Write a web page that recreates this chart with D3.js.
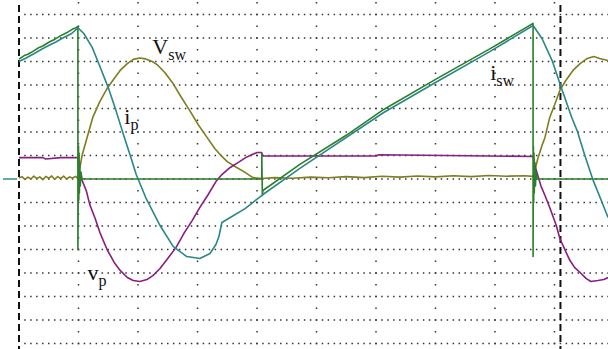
<!DOCTYPE html>
<html><head><meta charset="utf-8">
<script src="https://cdn.jsdelivr.net/npm/d3@7/dist/d3.min.js"></script>
<style>html,body{margin:0;padding:0;background:#fff;}svg{display:block;}</style>
</head><body><svg id="c" width="608" height="349"></svg>
<script>
// Time axis in divisions, amplitude in divisions
const xDivs = [0,1,2,3,4,5,6,7,8,9,10];
const yDivs = [-7,-6,-5,-4,-3,-2,-1,0,1,2,3,4,5,6,7];
const cursorT = [0, 9.1];

// i_p (teal)
const ipT = [0,0.12,0.25,0.38,0.5,0.62,0.75,0.88,0.99,1.09,1.23,1.36,1.50,1.63,1.76,1.87,1.97,2.13,2.37,2.59,2.82,3.04,3.21,3.31,3.36,3.41,3.55,3.80,4.10,4.72,6.13,7.03,7.92,8.64,8.79,8.96,9.09,9.29,9.38,9.51,9.65,9.80,9.90];
const ipV = [5.0,5.15,5.33,5.52,5.68,5.83,6.02,6.18,6.43,6.19,5.60,4.79,3.89,2.91,1.85,1.00,0.19,-0.79,-1.98,-2.87,-3.30,-3.38,-3.17,-2.79,-2.45,-1.85,-1.64,-1.26,-0.66,0.45,2.83,4.15,5.43,6.53,5.98,5.04,4.06,2.62,2.06,1.00,-0.06,-1.00,-1.64];

// i_sw (green)
const iswT = [0,0.1,0.15,0.2,0.3,0.35,0.4,0.5,0.55,0.6,0.7,0.75,0.8,0.9,0.95,0.99,0.99,1.0,1.005,1.01,1.015,1.02,1.03,1.04,1.06,4.08,4.08,4.09,4.10,4.72,5.5,6.13,7.03,7.92,8.64,8.64,8.645,8.65,8.655,8.66,8.67,8.68,8.69,8.71,9.90];
const iswV = [5.10,5.27,5.31,5.38,5.54,5.61,5.66,5.82,5.88,5.94,6.10,6.16,6.22,6.38,6.43,6.49,-3.0,1.4,-0.9,1.1,-0.6,0.7,-0.3,0.3,0,0,1.13,-0.70,-0.49,0.62,1.86,2.96,4.28,5.55,6.62,-3.30,1.4,-1.0,1.1,-0.6,0.7,-0.3,0.3,0,0];

// v_sw (olive)
const vswT = [0,0.05,0.1,0.15,0.2,0.25,0.3,0.35,0.4,0.45,0.5,0.55,0.6,0.65,0.7,0.75,0.8,0.85,0.9,0.95,0.99,1.03,1.06,1.13,1.24,1.36,1.48,1.60,1.70,1.82,1.92,2.03,2.13,2.24,2.32,2.45,2.59,2.72,2.87,3.01,3.16,3.29,3.41,3.50,3.63,3.80,3.93,4.08,4.3,4.6,4.9,5.2,5.5,5.8,6.1,6.4,6.7,7.0,7.3,7.6,7.9,8.2,8.5,8.64,8.67,8.72,8.79,8.84,8.92,9.01,9.09,9.19,9.31,9.43,9.55,9.66,9.76,9.90];
const vswV = [0.04,0.10,-0.02,0.08,0.0,0.12,0.02,0.09,-0.03,0.11,0.03,0.13,-0.01,0.10,0.02,0.12,0.0,0.09,0.04,0.11,0.02,0.57,1.00,1.64,2.62,3.30,3.85,4.28,4.62,4.91,5.09,5.15,5.11,5.00,4.87,4.53,4.06,3.51,2.91,2.32,1.77,1.30,0.96,0.74,0.53,0.28,0.06,0.02,0.06,0.03,0.08,0.05,0.1,0.06,0.12,0.08,0.13,0.09,0.14,0.1,0.15,0.12,0.14,0.11,0.36,0.87,1.43,1.77,2.62,3.21,3.77,4.19,4.62,4.91,5.13,5.21,5.13,5.04];

// v_p (purple)
const vpT = [0,0.4,0.45,0.7,0.99,1.01,1.06,1.13,1.19,1.28,1.36,1.48,1.60,1.70,1.82,1.92,2.03,2.15,2.25,2.37,2.50,2.64,2.77,2.91,3.04,3.18,3.31,3.41,3.55,3.68,3.81,3.92,4.00,4.07,4.10,6.0,6.05,8.64,8.67,8.72,8.77,8.84,8.92,9.03,9.09,9.18,9.26,9.34,9.43,9.53,9.61,9.73,9.83,9.90];
const vpV = [0.91,0.91,0.85,0.91,0.91,0.36,-0.06,-0.49,-1.09,-1.68,-2.28,-3.00,-3.55,-3.89,-4.19,-4.32,-4.36,-4.28,-4.11,-3.81,-3.38,-2.91,-2.32,-1.77,-1.21,-0.66,-0.11,0.19,0.49,0.70,0.91,1.04,1.13,1.13,0.98,0.98,1.03,0.96,0.57,0.15,-0.28,-0.70,-1.21,-1.98,-2.53,-3.04,-3.47,-3.77,-3.98,-4.23,-4.36,-4.32,-4.28,-4.19];

const labels = [
  {main:"V", sub:"sw", t:2.24, v:5.3},
  {main:"i", sub:"p", t:1.77, v:2.35},
  {main:"i", sub:"sw", t:7.92, v:4.2},
  {main:"v", sub:"p", t:1.15, v:-4.3}
];

const W=608,H=349;
const x = d3.scaleLinear().domain([0,10]).range([19,614]);
const y = d3.scaleLinear().domain([-7,7]).range([343.5,14.5]);
const svg = d3.select("#c");

// grid rows (dots every 0.1 div)
const gGrid = svg.append("g").attr("fill","#333");
yDivs.forEach(v=>{
  gGrid.selectAll(null).data(d3.range(1,101)).enter().append("rect")
    .attr("x",d=>x(d/10)-0.75).attr("y",y(v)-0.75).attr("width",1.5).attr("height",1.5);
});
// grid columns (dots every 0.5 div)
xDivs.filter(d=>d>0&&d<10).forEach(t=>{
  gGrid.selectAll(null).data(d3.range(-15,16)).enter().append("rect")
    .attr("x",x(t)-0.75).attr("y",d=>y(d/2)-0.75).attr("width",1.5).attr("height",1.5);
});

// cursors
cursorT.forEach(t=>{
  svg.append("line").attr("x1",x(t)).attr("x2",x(t)).attr("y1",5).attr("y2",H)
    .attr("stroke","#111").attr("stroke-width",2).attr("stroke-dasharray","7,4");
});

// ground marker
svg.append("line").attr("x1",3).attr("x2",17).attr("y1",y(0)).attr("y2",y(0))
  .attr("stroke","#2f8f8f").attr("stroke-width",1.5);

const line = d3.line().x(d=>x(d[0])).y(d=>y(d[1]));
const series = [
  {T:vswT,V:vswV,c:"#7f7d1f"},
  {T:vpT,V:vpV,c:"#861f80"},
  {T:iswT,V:iswV,c:"#2c7d2c"},
  {T:ipT,V:ipV,c:"#2a8787"}
];
series.forEach(s=>{
  svg.append("path").datum(s.T.map((t,i)=>[t,s.V[i]]))
    .attr("d",line).attr("fill","none").attr("stroke",s.c).attr("stroke-width",1.6)
    .attr("stroke-linejoin","round");
});

// labels
const gL = svg.append("g").attr("font-family","'Liberation Serif','Times New Roman',serif").attr("fill","#111");
labels.forEach(l=>{
  const tx = gL.append("text").attr("x",x(l.t)).attr("y",y(l.v)).attr("font-size",22);
  tx.append("tspan").text(l.main);
  tx.append("tspan").attr("dy",6).attr("font-size",16).text(l.sub);
});
</script></body></html>
